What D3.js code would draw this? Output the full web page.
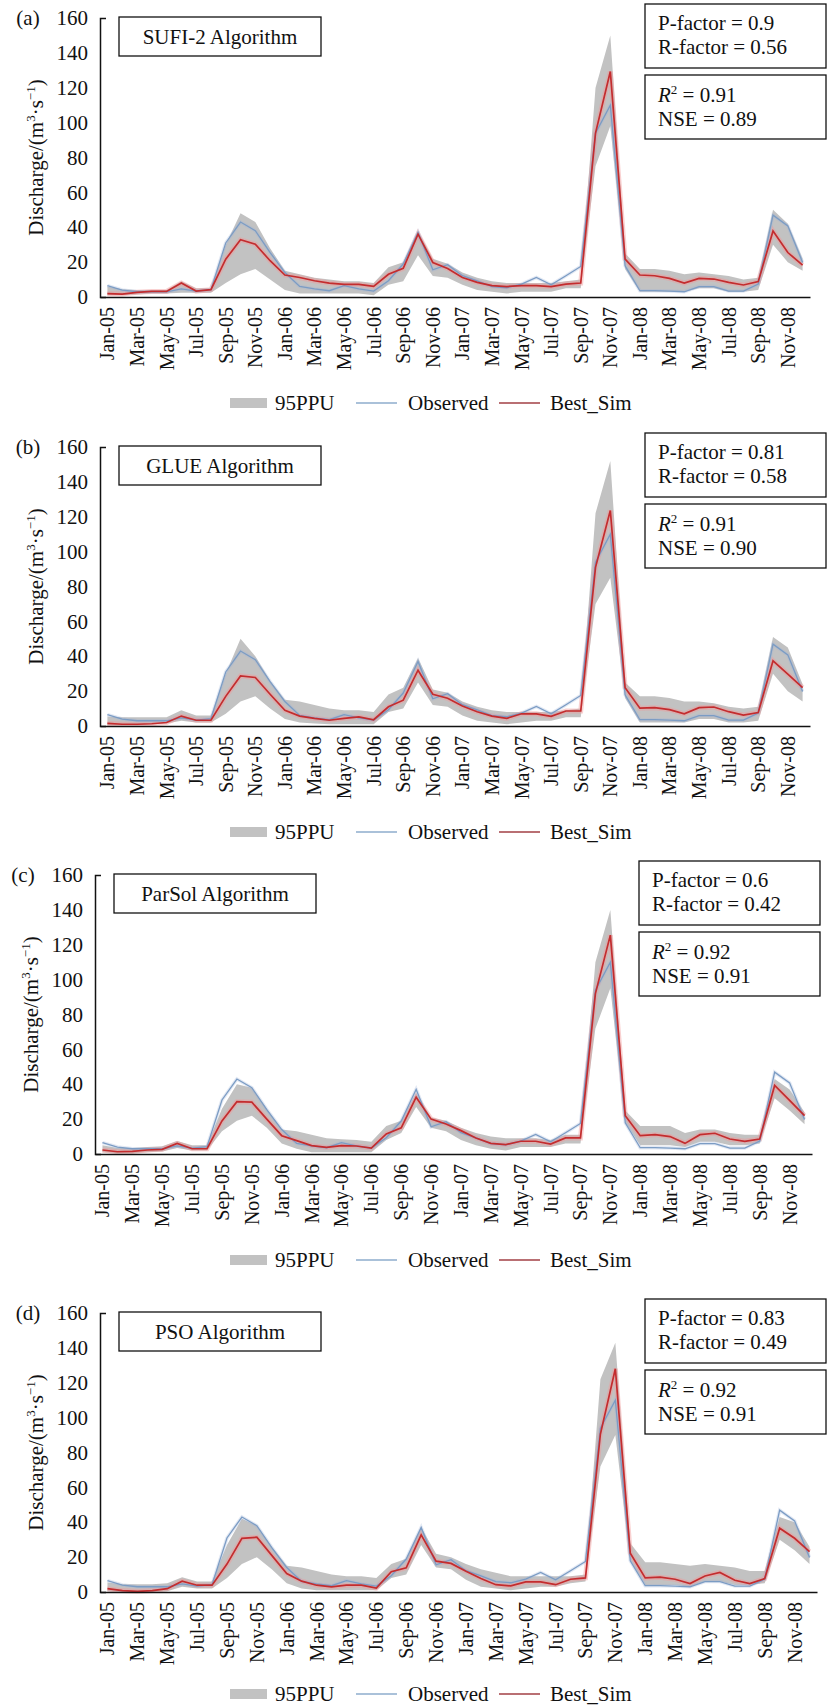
<!DOCTYPE html>
<html>
<head>
<meta charset="utf-8">
<script src="https://cdn.jsdelivr.net/npm/d3@7"></script>
<style>
  body { margin: 0; background: #fff; }
  svg text { font-family: 'Liberation Serif', 'Times New Roman', Times, 'DejaVu Serif', serif; fill: #111; }
</style>
</head>
<body>
<div id="chart-area"></div>
<script>
const FONT = "'Liberation Serif', 'Times New Roman', Times, 'DejaVu Serif', serif"

// CATEGORIES (Jan-05 .. Dec-08)
const monthNames = ['Jan', 'Feb', 'Mar', 'Apr', 'May', 'Jun', 'Jul', 'Aug', 'Sep', 'Oct', 'Nov', 'Dec']
const years = ['05', '06', '07', '08']
const categories = years.flatMap(y => monthNames.map(m => m + '-' + y))
const yTicks = [0, 20, 40, 60, 80, 100, 120, 140, 160]

// OBSERVED DISCHARGE (same in all panels)
const observed = [6.5, 4, 3, 3, 3, 4.6, 3.4, 4.2, 31, 43, 38, 25.5, 14, 6.1, 4.6, 3.6, 6.5, 4.6, 3.4, 9.3, 18.9, 37,
  15.6, 18.5, 12.2, 9.3, 6, 5.3, 7.4, 11.2, 7, 12.2, 17.5, 94, 110, 17.9, 3.6, 3.6, 3.4, 3, 6, 6, 3.4, 3.4, 7.4, 46.9, 40.8, 19.8]

// (a) SUFI-2
const simA = [1.9, 1.7, 2.7, 3.2, 3.2, 8, 3.4, 4.2, 21.7, 32.8, 30.3, 20.8, 12.6, 11.2, 9.3, 8, 7.2, 7.2, 6.1, 13, 16.4, 36,
  19.8, 16.4, 11.2, 8.4, 6.5, 6, 6.5, 6.5, 6, 7.4, 8, 94, 129.3, 21.7, 12.6, 12.2, 10.7, 8, 10.7, 10.3, 8.4, 6.9, 8.8, 37.9, 25.5, 18.3]
const lowA = [1, 1, 1.5, 2, 2, 2.5, 2.5, 2.5, 8, 13, 16, 10, 4, 2, 2, 2, 2, 2, 1, 7, 9, 24,
  12, 11, 7, 4, 3, 2, 3, 3, 3, 5, 5, 75, 98, 16, 3, 3, 3, 3, 5, 5, 3, 3, 4, 30, 20, 15]
const upA = [6, 4.5, 4, 4, 4, 9, 5, 5, 30, 48, 43, 28, 15, 13, 11, 10, 9, 9, 8, 17, 20, 38,
  22, 19, 14, 11, 9, 8, 8, 8, 8, 9, 10, 120, 150, 25, 16, 16, 15, 13, 14, 13, 12, 10, 11, 50, 42, 22]

// (b) GLUE
const simB = [1.5, 1, 1, 1.3, 2, 5.7, 3.3, 3.3, 17, 28.7, 27.8, 18.2, 9, 5.7, 4.4, 3.3, 4.4, 5.2, 3.6, 11, 14.8, 32,
  18.2, 15.9, 11.5, 8.2, 5.7, 4.4, 7, 7, 5.5, 8.6, 8.6, 91, 123.6, 22, 10.2, 10.5, 9.4, 7, 10.5, 10.9, 8.2, 6.3, 7.7, 37.4, 29.7, 22]
const lowB = [0.5, 0.5, 0.5, 1, 1.5, 3, 2, 2, 7, 14, 17, 10, 4, 2, 1.5, 1, 1, 1, 1, 8, 10, 25,
  12, 11, 6, 3, 2, 1, 2, 3, 3, 5, 5, 70, 85, 16, 2, 2, 2, 2, 4, 4, 2, 2, 3, 30, 20, 14]
const upB = [5.5, 5, 5, 5, 5, 9, 6, 6, 30, 50, 40, 26, 15, 14, 12, 10, 9, 9, 8, 18, 22, 39,
  21, 19, 14, 11, 9, 8, 8, 8, 8, 9, 10, 122, 152, 25, 17, 17, 16, 14, 14, 13, 11, 10, 11, 51, 45, 24]

// (c) ParSol
const simC = [2.3, 1.3, 1.5, 2.3, 2.7, 6.1, 3, 3, 19, 30, 29.7, 20, 10.5, 7.7, 4.8, 3.8, 4.8, 4.6, 3.4, 11.5, 15, 32.6,
  20, 17.2, 13.4, 9.2, 6.1, 5.4, 7.3, 7.3, 5.7, 9.2, 9.2, 92, 125.5, 22, 10.5, 11.1, 10, 6.1, 11.1, 11.9, 8.6, 7.3, 8.6, 39.3, 30.7, 22]
const lowC = [1, 0.5, 0.5, 1, 1.5, 3.5, 2, 2, 13, 19, 22, 15, 6, 3, 1, 1, 1, 1, 1, 8, 12, 27,
  15, 13, 8, 5, 3, 2, 4, 4, 4, 6, 6, 72, 95, 18, 5, 5, 5, 4, 7, 7, 5, 5, 6, 32, 25, 17]
const upC = [5, 3.5, 3.5, 4, 4.5, 7.5, 5, 5, 26, 40, 38, 26, 14, 13, 11, 9, 8.5, 8, 7, 16, 19, 35,
  21, 19, 15, 12, 10, 9, 9, 9, 8, 11, 11, 110, 140, 25, 16, 16, 16, 12, 14, 14, 12, 11, 11, 43, 37, 24]

// (d) PSO
const simD = [1.9, 0.8, 0.4, 0.8, 1.9, 6.2, 3.9, 3.9, 16, 30.8, 31.4, 21, 10.6, 6.2, 3.9, 2.9, 3.9, 3.9, 2.3, 11.6, 13.9, 32.8,
  17.7, 16.4, 11.9, 7.7, 4.2, 3.5, 5.8, 5.8, 4.2, 7.3, 8.1, 90.6, 128, 22.2, 8.1, 8.5, 7.3, 4.8, 9.2, 11.2, 6.7, 4.8, 7.7, 36.6, 30.8, 23.1]
const lowD = [0.5, 0, 0, 0, 0.5, 3, 2, 2, 8, 16, 20, 13, 5, 2, 1, 1, 1, 1, 1, 8, 10, 27,
  14, 13, 7, 3, 2, 1, 2, 3, 3, 5, 6, 72, 90, 18, 4, 4, 4, 3, 6, 6, 4, 4, 5, 30, 24, 16]
const upD = [5.5, 4.5, 4.5, 4.5, 5, 8.5, 6, 6, 27, 42, 38, 26, 15, 14, 12, 10, 9, 9, 8, 16, 19, 37,
  22, 20, 16, 13, 11, 9, 9, 9, 9, 9, 10, 122, 143, 28, 17, 17, 16, 15, 16, 15, 14, 12, 12, 43, 40, 26]

// PANEL TEXTS
const panelLabels = ['(a)', '(b)', '(c)', '(d)']
const panelTitles = ['SUFI-2 Algorithm', 'GLUE Algorithm', 'ParSol Algorithm', 'PSO Algorithm']
const pFactors = ['0.9', '0.81', '0.6', '0.83']
const rFactors = ['0.56', '0.58', '0.42', '0.49']
const r2Values = ['0.91', '0.91', '0.92', '0.92']
const nseValues = ['0.89', '0.90', '0.91', '0.91']

const sims = [simA, simB, simC, simD]
const lows = [lowA, lowB, lowC, lowD]
const ups = [upA, upB, upC, upD]

// PANEL LAYOUT (top = y of the 160 tick)
const layout = [
  { top: 18, left: 100, right: 810, boxX: 645, legendDy: 385 },
  { top: 447, left: 100, right: 810, boxX: 645, legendDy: 385 },
  { top: 875, left: 95, right: 812, boxX: 639, legendDy: 385 },
  { top: 1313, left: 100, right: 817, boxX: 645, legendDy: 381 }
]
const plotH = 279

const svg = d3.select('#chart-area')
  .append('svg')
  .attr('width', 832)
  .attr('height', 1708)
  .style('font-family', FONT)

const addText = (g, x, y, str) => g.append('text')
  .attr('x', x)
  .attr('y', y)
  .attr('font-family', FONT)
  .attr('font-size', '21px')
  .text(str)

const drawPanel = (p, k) => {
  const g = svg.append('g').attr('class', 'panel')

  const x = d3.scaleBand()
    .domain(categories)
    .range([p.left, p.right])
    .paddingInner(0)
    .paddingOuter(0)
  const y = d3.scaleLinear()
    .domain([0, 160])
    .range([p.top + plotH, p.top])
  const cx = d => x(d) + x.bandwidth() / 2

  // 95PPU BAND
  const area = d3.area()
    .x((d, i) => cx(categories[i]))
    .y0((d, i) => y(lows[k][i]))
    .y1((d, i) => y(ups[k][i]))
  g.append('path')
    .datum(categories)
    .attr('d', area)
    .attr('fill', '#c2c2c2')

  const line = arr => d3.line()
    .x((d, i) => cx(categories[i]))
    .y(d => y(d))(arr)

  // HALOS
  g.append('path').attr('d', line(sims[k]))
    .attr('fill', 'none').attr('stroke', '#f19a9a').attr('stroke-opacity', 0.45).attr('stroke-width', 5)
  g.append('path').attr('d', line(observed))
    .attr('fill', 'none').attr('stroke', '#9fb4d8').attr('stroke-opacity', 0.3).attr('stroke-width', 3.5)

  // OBSERVED + BEST SIM
  g.append('path').attr('d', line(observed))
    .attr('fill', 'none').attr('stroke', '#7b9cc4').attr('stroke-width', 1.3)
  g.append('path').attr('d', line(sims[k]))
    .attr('fill', 'none').attr('stroke', '#c42c2e').attr('stroke-width', 1.7)

  // Y AXIS
  const yAxisCall = d3.axisLeft(y)
    .tickValues(yTicks)
    .tickSizeInner(0)
    .tickSizeOuter(-6)
    .tickPadding(12)
  const yg = g.append('g')
    .attr('transform', 'translate(' + p.left + ',0)')
    .call(yAxisCall)
    .attr('font-family', FONT)
  yg.select('.domain').attr('stroke', '#111').attr('stroke-width', 1.5)
  yg.selectAll('text')
    .attr('font-size', '21px')
    .attr('font-family', FONT)
    .attr('fill', '#111')

  // X AXIS
  const xAxisCall = d3.axisBottom(x)
    .tickValues(categories.filter((d, i) => i % 2 === 0))
    .tickSize(0)
    .tickSizeOuter(0)
  const xg = g.append('g')
    .attr('transform', 'translate(0,' + (p.top + plotH) + ')')
    .call(xAxisCall)
    .attr('font-family', FONT)
  xg.select('.domain').attr('stroke', '#111').attr('stroke-width', 1.5)
  xg.selectAll('text')
    .attr('font-size', '20px')
    .attr('font-family', FONT)
    .attr('fill', '#111')
    .attr('transform', 'rotate(-90)')
    .attr('x', -10)
    .attr('y', 0)
    .attr('dy', '0.35em')
    .style('text-anchor', 'end')

  // Y AXIS TITLE
  const yt = g.append('text')
    .attr('transform', 'translate(' + (p.left - 57) + ',' + (p.top + plotH / 2) + ') rotate(-90)')
    .attr('text-anchor', 'middle')
    .attr('font-family', FONT)
    .attr('font-size', '21px')
  yt.append('tspan').text('Discharge/(m')
  yt.append('tspan').attr('font-size', '13px').attr('dy', -8).text('3')
  yt.append('tspan').attr('dy', 8).text('·s')
  yt.append('tspan').attr('font-size', '13px').attr('dy', -8).text('−1')
  yt.append('tspan').attr('dy', 8).text(')')

  // PANEL LABEL
  addText(g, p.left - 72, p.top + 7, panelLabels[k]).attr('text-anchor', 'middle')

  // TITLE BOX
  g.append('rect')
    .attr('x', p.left + 19).attr('y', p.top - 1)
    .attr('width', 202).attr('height', 39)
    .attr('fill', '#fff').attr('stroke', '#111').attr('stroke-width', 1.3)
  addText(g, p.left + 120, p.top + 26, panelTitles[k]).attr('text-anchor', 'middle')

  // STATS BOXES
  g.append('rect')
    .attr('x', p.boxX).attr('y', p.top - 14)
    .attr('width', 181).attr('height', 64)
    .attr('fill', '#fff').attr('stroke', '#111').attr('stroke-width', 1.3)
  g.append('rect')
    .attr('x', p.boxX).attr('y', p.top + 57)
    .attr('width', 181).attr('height', 64)
    .attr('fill', '#fff').attr('stroke', '#111').attr('stroke-width', 1.3)

  addText(g, p.boxX + 13, p.top + 12, 'P-factor = ' + pFactors[k])
  addText(g, p.boxX + 13, p.top + 36, 'R-factor = ' + rFactors[k])

  const r2 = addText(g, p.boxX + 13, p.top + 84, '')
  r2.append('tspan').attr('font-style', 'italic').text('R')
  r2.append('tspan').attr('font-size', '13px').attr('dy', -8).text('2')
  r2.append('tspan').attr('dy', 8).text(' = ' + r2Values[k])
  addText(g, p.boxX + 13, p.top + 108, 'NSE = ' + nseValues[k])

  // LEGEND
  const ly = p.top + p.legendDy
  g.append('rect').attr('x', 230).attr('y', ly - 5).attr('width', 37).attr('height', 10).attr('fill', '#c2c2c2')
  addText(g, 275, ly + 7, '95PPU')
  g.append('line').attr('x1', 356).attr('x2', 397).attr('y1', ly).attr('y2', ly)
    .attr('stroke', '#8eaccd').attr('stroke-width', 1.6)
  addText(g, 408, ly + 7, 'Observed')
  g.append('line').attr('x1', 499).attr('x2', 540).attr('y1', ly).attr('y2', ly)
    .attr('stroke', '#a23f45').attr('stroke-width', 1.6)
  addText(g, 550, ly + 7, 'Best_Sim')
}

layout.forEach(drawPanel)
</script>
</body>
</html>
